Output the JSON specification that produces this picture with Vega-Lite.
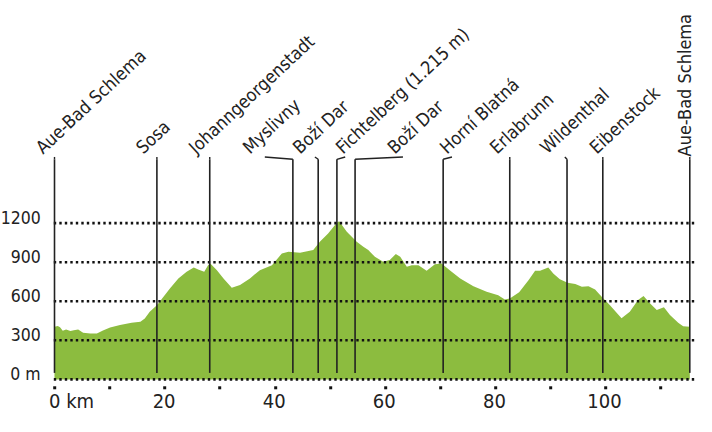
{
  "$schema": "https://vega.github.io/schema/vega-lite/v6.json",
  "autosize": {"type": "none"},
  "width": 643,
  "height": 221.4,
  "padding": {"left": 51.2, "top": 158, "right": 18, "bottom": 53},
  "background": "white",
  "config": {"view": {"stroke": null}, "font": "DejaVu Sans Condensed, Liberation Sans Narrow, Roboto, sans-serif"},
  "datasets": {
    "profile": [
      {"km": 0, "m": 404}, {"km": 0.6, "m": 410}, {"km": 1.0, "m": 400}, {"km": 1.5, "m": 373},
      {"km": 2.1, "m": 384}, {"km": 2.9, "m": 371}, {"km": 3.5, "m": 378}, {"km": 4.3, "m": 384},
      {"km": 5.2, "m": 358}, {"km": 6.5, "m": 352}, {"km": 7.7, "m": 353}, {"km": 8.8, "m": 375},
      {"km": 10.1, "m": 399}, {"km": 11.9, "m": 417}, {"km": 14.0, "m": 435}, {"km": 15.6, "m": 442},
      {"km": 16.4, "m": 468}, {"km": 17.3, "m": 519}, {"km": 18.6, "m": 570}, {"km": 19.8, "m": 634},
      {"km": 21.0, "m": 699}, {"km": 22.5, "m": 775}, {"km": 24.0, "m": 826}, {"km": 25.3, "m": 860},
      {"km": 26.1, "m": 844}, {"km": 27.2, "m": 826}, {"km": 27.9, "m": 877}, {"km": 28.3, "m": 890},
      {"km": 29.5, "m": 839}, {"km": 30.7, "m": 775}, {"km": 32.2, "m": 703}, {"km": 33.7, "m": 724},
      {"km": 35.5, "m": 775}, {"km": 37.3, "m": 839}, {"km": 39.5, "m": 877}, {"km": 41.3, "m": 967},
      {"km": 42.5, "m": 980}, {"km": 44.6, "m": 972}, {"km": 47.0, "m": 993}, {"km": 48.2, "m": 1056},
      {"km": 49.7, "m": 1121}, {"km": 51.3, "m": 1202}, {"km": 51.7, "m": 1215}, {"km": 53.1, "m": 1133},
      {"km": 54.9, "m": 1056}, {"km": 56.1, "m": 1018}, {"km": 57.0, "m": 993}, {"km": 58.2, "m": 941},
      {"km": 59.7, "m": 903}, {"km": 60.9, "m": 916}, {"km": 62.0, "m": 962}, {"km": 62.8, "m": 941},
      {"km": 64.0, "m": 865}, {"km": 64.9, "m": 877}, {"km": 66.1, "m": 877}, {"km": 67.6, "m": 834},
      {"km": 69.1, "m": 885}, {"km": 70.3, "m": 890}, {"km": 71.8, "m": 839}, {"km": 73.7, "m": 775},
      {"km": 76.1, "m": 716}, {"km": 78.5, "m": 673}, {"km": 80.6, "m": 647}, {"km": 81.8, "m": 614},
      {"km": 82.7, "m": 622}, {"km": 84.4, "m": 670}, {"km": 86.1, "m": 762}, {"km": 87.3, "m": 834},
      {"km": 88.2, "m": 834}, {"km": 89.7, "m": 860}, {"km": 90.6, "m": 814}, {"km": 91.8, "m": 768},
      {"km": 93.2, "m": 742}, {"km": 94.6, "m": 732}, {"km": 95.8, "m": 711}, {"km": 97.0, "m": 716},
      {"km": 98.2, "m": 691}, {"km": 99.4, "m": 634}, {"km": 100.9, "m": 570}, {"km": 103.0, "m": 470},
      {"km": 104.5, "m": 519}, {"km": 106.0, "m": 609}, {"km": 107.0, "m": 640}, {"km": 108.2, "m": 583},
      {"km": 109.4, "m": 532}, {"km": 110.7, "m": 553}, {"km": 111.8, "m": 494}, {"km": 113.3, "m": 435},
      {"km": 114.2, "m": 409}, {"km": 115.4, "m": 404}
    ],
    "places": [
      {"name": "Aue-Bad Schlema", "km": 0, "label_km": -2.1, "lead_km": 0},
      {"name": "Sosa", "km": 18.6, "label_km": 16.1, "lead_km": 18.6},
      {"name": "Johanngeorgenstadt", "km": 28.2, "label_km": 25.7, "lead_km": 28.2},
      {"name": "Myslivny", "km": 43.3, "label_km": 35.5, "lead_km": 38.2},
      {"name": "Boží Dar", "km": 47.9, "label_km": 44.6, "lead_km": 47.3},
      {"name": "Fichtelberg (1.215 m)", "km": 51.3, "label_km": 52.4, "lead_km": 52.8},
      {"name": "Boží Dar ", "km": 54.6, "label_km": 61.8, "lead_km": 63.3},
      {"name": "Horní Blatná", "km": 70.6, "label_km": 71.3, "lead_km": 72.2},
      {"name": "Erlabrunn", "km": 82.7, "label_km": 80.4, "lead_km": 82.7},
      {"name": "Wildenthal", "km": 93.1, "label_km": 89.5, "lead_km": 92.7},
      {"name": "Eibenstock", "km": 99.6, "label_km": 98.5, "lead_km": 99.6},
      {"name": "Aue-Bad Schlema ", "km": 115.4, "label_km": 115.6, "lead_km": 115.4}
    ],
    "grid": [{"m": 0}, {"m": 300}, {"m": 600}, {"m": 900}, {"m": 1200}]
  },
  "layer": [
    {
      "data": {"name": "profile"},
      "mark": {"type": "area", "color": "#8cbc3f", "interpolate": "linear"},
      "encoding": {
        "x": {
          "field": "km", "type": "quantitative",
          "scale": {"domain": [-0.6, 116.2], "nice": false, "zero": false},
          "axis": {
            "values": [0, 10, 20, 30, 40, 50, 60, 70, 80, 90, 100, 110],
            "labelExpr": "datum.value % 20 == 0 ? (datum.value == 0 ? '0 km' : datum.label) : ''",
            "title": null, "domain": false, "grid": false,
            "offset": 6.4, "tickSize": 3, "tickWidth": 3, "tickColor": "#111",
            "labelFontSize": 20, "labelColor": "#222",
            "labelPadding": 3, "labelBaseline": "top",
            "labelAlign": {"condition": {"test": "datum.value == 0", "value": "left"}, "value": "center"},
            "labelOffset": {"condition": {"test": "datum.value == 0", "value": -6}, "value": -1}
          }
        },
        "y": {
          "field": "m", "type": "quantitative",
          "scale": {"domain": [0, 1700], "nice": false},
          "axis": {
            "values": [0, 300, 600, 900, 1200], "format": "d",
            "labelExpr": "datum.value == 0 ? '0 m' : datum.label",
            "title": null, "domain": false, "grid": false, "ticks": false,
            "labelFontSize": 17.5, "labelColor": "#222",
            "labelPadding": 11, "labelBaseline": "alphabetic", "labelAlign": "right"
          }
        }
      }
    },
    {
      "data": {"name": "grid"},
      "mark": {"type": "rule", "color": "#111", "strokeWidth": 2.6, "strokeDash": [2.4, 3.1]},
      "encoding": {"y": {"field": "m", "type": "quantitative"}}
    },
    {
      "data": {"name": "places"},
      "mark": {"type": "rule", "color": "#222", "strokeWidth": 1.6},
      "encoding": {
        "x": {"field": "km", "type": "quantitative"},
        "y": {"datum": 50},
        "y2": {"datum": 1690}
      }
    },
    {
      "data": {"name": "places"},
      "mark": {"type": "rule", "color": "#222", "strokeWidth": 1.4},
      "encoding": {
        "x": {"field": "km", "type": "quantitative"},
        "x2": {"field": "lead_km"},
        "y": {"datum": 1690},
        "y2": {"datum": 1708}
      }
    },
    {
      "data": {"name": "places"},
      "transform": [{"filter": "datum.km < 110"}],
      "mark": {"type": "text", "angle": -43, "align": "left", "baseline": "alphabetic", "fontSize": 18, "color": "#222"},
      "encoding": {
        "x": {"field": "label_km", "type": "quantitative"},
        "y": {"datum": 1725},
        "text": {"field": "name"}
      }
    },
    {
      "data": {"name": "places"},
      "transform": [{"filter": "datum.km > 110"}],
      "mark": {"type": "text", "angle": -90, "align": "left", "baseline": "alphabetic", "fontSize": 18, "color": "#222"},
      "encoding": {
        "x": {"field": "label_km", "type": "quantitative"},
        "y": {"datum": 1712},
        "text": {"field": "name"}
      }
    }
  ]
}
